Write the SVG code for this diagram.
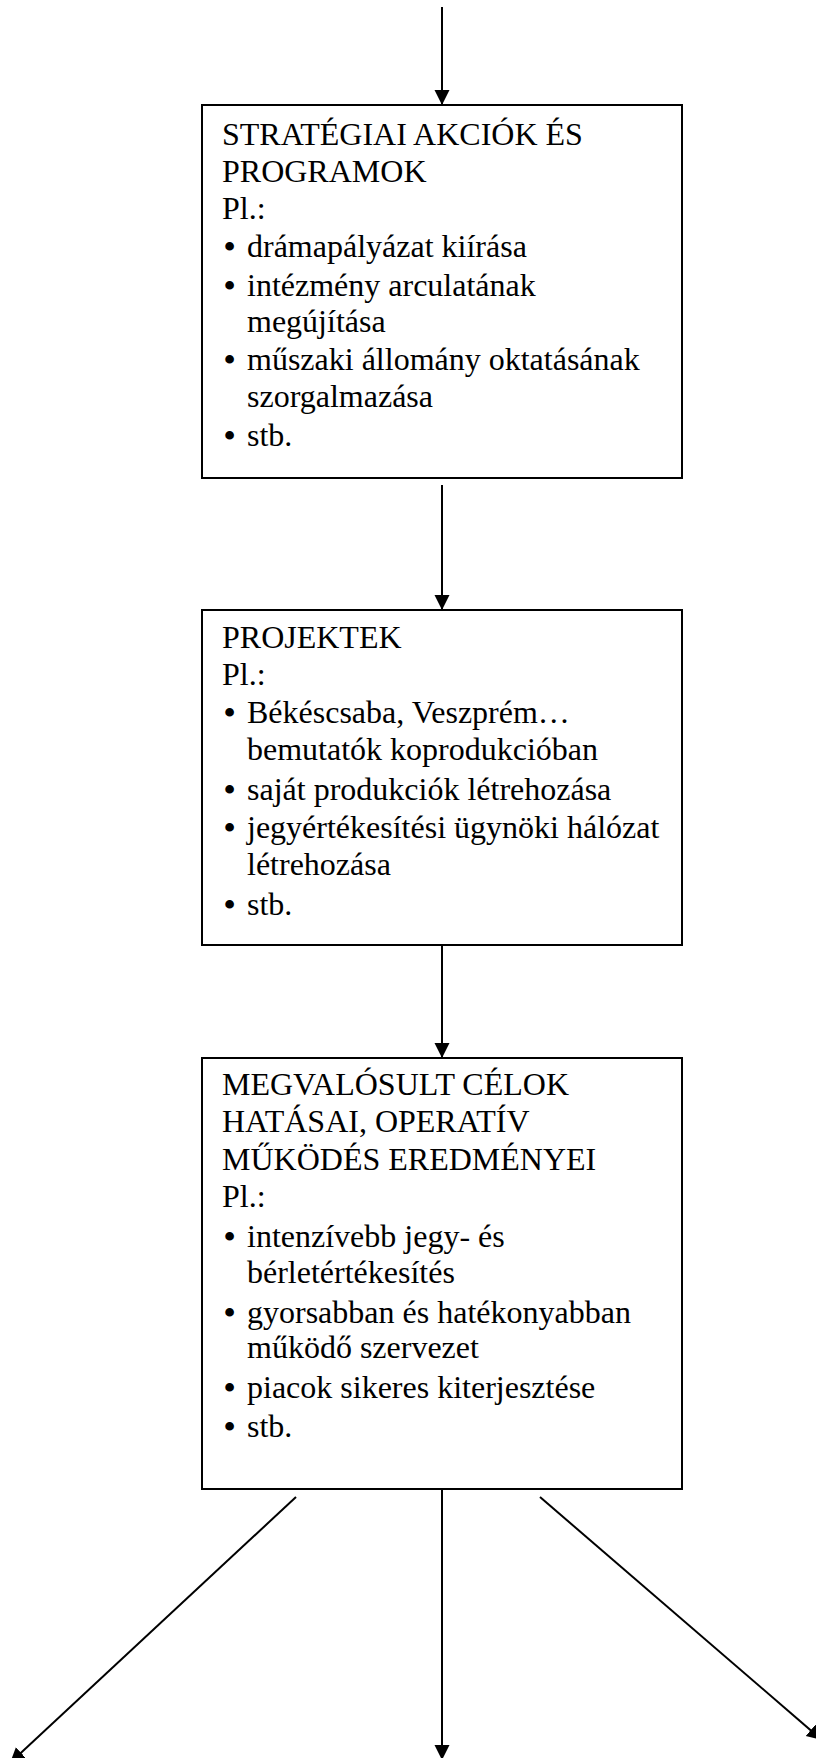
<svg xmlns="http://www.w3.org/2000/svg" width="816" height="1758" viewBox="0 0 816 1758">
<style>
  .box { fill: #ffffff; stroke: #000000; stroke-width: 2; }
  .t { font-family: "Liberation Serif", "Times New Roman", serif; font-size: 32px; fill: #000000; }
  .b { font-weight: bold; }
  .conn { stroke: #000000; stroke-width: 2; fill: none; marker-end: url(#arrow); }
</style>
<defs>
  <marker id="arrow" markerUnits="userSpaceOnUse" markerWidth="16" markerHeight="16" refX="15" refY="7.5" orient="auto">
    <path d="M0,0 L15,7.5 L0,15 z" fill="#000000"/>
  </marker>
</defs>
<rect width="816" height="1758" fill="#ffffff"/>
<g id="connectors">
  <line class="conn" x1="442" y1="7" x2="442" y2="105"/>
  <line class="conn" x1="442" y1="485" x2="442" y2="610"/>
  <line class="conn" x1="442" y1="945" x2="442" y2="1058"/>
  <line class="conn" x1="296" y1="1497" x2="10" y2="1763"/>
  <line class="conn" x1="442" y1="1489" x2="442" y2="1760"/>
  <line class="conn" x1="540" y1="1497" x2="822" y2="1740"/>
</g>
<g id="node-strategiai">
  <rect class="box" x="202" y="105" width="480" height="373"/>
  <text class="t" x="222" y="145">STRATÉGIAI AKCIÓK ÉS</text>
  <text class="t" x="222" y="182">PROGRAMOK</text>
  <text class="t" x="222" y="219">Pl.:</text>
  <text class="t"><tspan class="b" x="224" y="257">•</tspan><tspan x="247" y="257">drámapályázat kiírása</tspan></text>
  <text class="t"><tspan class="b" x="224" y="296">•</tspan><tspan x="247" y="296">intézmény arculatának</tspan></text>
  <text class="t" x="247" y="332">megújítása</text>
  <text class="t"><tspan class="b" x="224" y="370">•</tspan><tspan x="247" y="370">műszaki állomány oktatásának</tspan></text>
  <text class="t" x="247" y="407">szorgalmazása</text>
  <text class="t"><tspan class="b" x="224" y="446">•</tspan><tspan x="247" y="446">stb.</tspan></text>
</g>
<g id="node-projektek">
  <rect class="box" x="202" y="610" width="480" height="335"/>
  <text class="t" x="222" y="648">PROJEKTEK</text>
  <text class="t" x="222" y="685">Pl.:</text>
  <text class="t"><tspan class="b" x="224" y="723">•</tspan><tspan x="247" y="723">Békéscsaba, Veszprém…</tspan></text>
  <text class="t" x="247" y="760">bemutatók koprodukcióban</text>
  <text class="t"><tspan class="b" x="224" y="800">•</tspan><tspan x="247" y="800">saját produkciók létrehozása</tspan></text>
  <text class="t"><tspan class="b" x="224" y="838">•</tspan><tspan x="247" y="838">jegyértékesítési ügynöki hálózat</tspan></text>
  <text class="t" x="247" y="875">létrehozása</text>
  <text class="t"><tspan class="b" x="224" y="915">•</tspan><tspan x="247" y="915">stb.</tspan></text>
</g>
<g id="node-megvalosult">
  <rect class="box" x="202" y="1058" width="480" height="431"/>
  <text class="t" x="222" y="1095">MEGVALÓSULT CÉLOK</text>
  <text class="t" x="222" y="1132">HATÁSAI, OPERATÍV</text>
  <text class="t" x="222" y="1170">MŰKÖDÉS EREDMÉNYEI</text>
  <text class="t" x="222" y="1207">Pl.:</text>
  <text class="t"><tspan class="b" x="224" y="1247">•</tspan><tspan x="247" y="1247">intenzívebb jegy- és</tspan></text>
  <text class="t" x="247" y="1283">bérletértékesítés</text>
  <text class="t"><tspan class="b" x="224" y="1323">•</tspan><tspan x="247" y="1323">gyorsabban és hatékonyabban</tspan></text>
  <text class="t" x="247" y="1358">működő szervezet</text>
  <text class="t"><tspan class="b" x="224" y="1398">•</tspan><tspan x="247" y="1398">piacok sikeres kiterjesztése</tspan></text>
  <text class="t"><tspan class="b" x="224" y="1437">•</tspan><tspan x="247" y="1437">stb.</tspan></text>
</g>
</svg>
